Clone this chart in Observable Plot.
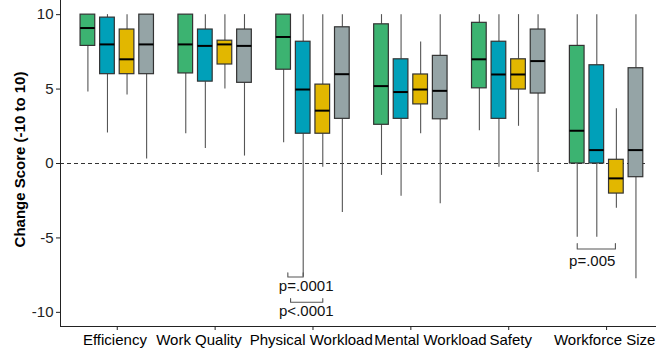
<!DOCTYPE html>
<html>
<head>
<meta charset="utf-8">
<script src="https://cdn.jsdelivr.net/npm/d3@7"></script>
<script src="https://cdn.jsdelivr.net/npm/@observablehq/plot@0.6"></script>
<style>
  html, body { margin: 0; padding: 0; background: #fff; }
  #chart svg { display: block; }
  #chart svg, #chart svg text { font-family: "Liberation Sans", Arial, Helvetica, sans-serif !important; }
</style>
</head>
<body>
<div id="chart"></div>
<script>
const categories = ["Efficiency", "Work Quality", "Physical Workload", "Mental Workload", "Safety", "Workforce Size"];
const groups = ["Group 1", "Group 2", "Group 3", "Group 4"];
const colors = ["#3cb371", "#00a0b9", "#e2b700", "#95a4a6"];
const yTicks = [-10, -5, 0, 5, 10];
const yLabel = "Change Score (-10 to 10)";

// one row per category, one value per group
const lowerWhisker = [[4.8, 2.05, 4.6, 0.3], [2.0, 1.0, 5.0, 0.5], [1.4, -7.62, -0.25, -3.3], [-0.8, -2.2, 2.0, -2.7], [2.2, -0.25, 2.5, -0.6], [-4.95, -4.95, -3.0, -7.75]];
const q1 = [[7.9, 6, 6, 6], [6.05, 5.5, 6.65, 5.42], [6.3, 2, 2, 3], [2.6, 3, 3.97, 2.97], [5.05, 3, 4.97, 4.7], [0, 0, -2.02, -0.92]];
const median = [[9.1, 8, 7, 8], [8, 7.9, 8, 7.9], [8.5, 4.97, 3.55, 6], [5.2, 4.8, 4.97, 4.88], [7, 5.98, 5.98, 6.88], [2.2, 0.9, -1.0, 0.9]];
const q3 = [[10, 9.8, 9, 10], [10, 9, 8.25, 9], [10, 8.18, 5.3, 9.15], [9.35, 7, 5.98, 7.23], [9.45, 8.18, 7, 9], [7.9, 6.6, 0.25, 6.4]];
const upperWhisker = [[10, 10, 10, 10], [10, 10, 10, 10], [10, 10, 10, 10], [10, 10, 8.17, 10], [10, 10, 10, 10], [10, 10, 3.67, 10]];

// significance brackets
const bracketCategory = ["Physical Workload", "Physical Workload", "Workforce Size"];
const bracketFrom = [-0.257, -0.229, -0.3];
const bracketTo = [-0.1, 0.1, 0.09];
const bracketY = [-7.62, -9.32, -5.74];
const bracketTip = [0.28, 0.25, 0.36];
const pLabels = ["p=.0001", "p<.0001", "p=.005"];
const pLabelOffset = [-0.07, -0.068, -0.147];
const pLabelY = [-8.22, -9.94, -6.58];

// layout: horizontal nudge of the category labels (category units), as in the reference
const labelNudge = [-0.024, -0.165, -0.018, 0.2, 0.02, -0.02];

const dodge = 0.2, boxHalf = 0.075;
const boxes = [];
categories.forEach((c, ci) => groups.forEach((g, gi) => {
  const pos = ci + 1 + (gi - 1.5) * dodge;
  boxes.push({category: c, group: g, pos, x1: pos - boxHalf, x2: pos + boxHalf,
    lo: lowerWhisker[ci][gi], q1: q1[ci][gi], med: median[ci][gi], q3: q3[ci][gi], hi: upperWhisker[ci][gi]});
}));

const bracketPts = [];
const bracketLabels = [];
bracketCategory.forEach((c, i) => {
  const base = categories.indexOf(c) + 1;
  const a = base + bracketFrom[i], b = base + bracketTo[i];
  const y = bracketY[i], t = y + bracketTip[i];
  [[a, t], [a, y], [b, y], [b, t]].forEach(([x, yy]) => bracketPts.push({id: i, x, y: yy}));
  bracketLabels.push({text: pLabels[i], x: base + pLabelOffset[i], y: pLabelY[i]});
});

const catLabels = categories.map((c, i) => ({text: c, x: i + 1 + labelNudge[i]}));

const xMin = 0.42, xMax = 6.51, yMin = -10.95, yMax = 10.95;

const chart = Plot.plot({
  width: 656,
  height: 350,
  marginLeft: 60,
  marginRight: 0,
  marginTop: 0,
  marginBottom: 24,
  style: {fontSize: "15px", background: "#fff", color: "#000", overflow: "hidden"},
  x: {domain: [xMin, xMax], axis: null},
  y: {domain: [yMin, yMax], axis: null},
  color: {domain: groups, range: colors},
  marks: [
    Plot.ruleY([0], {x1: xMin, x2: 6.4, stroke: "#333", strokeWidth: 1, strokeDasharray: "4,3"}),
    Plot.ruleX(boxes, {x: "pos", y1: "lo", y2: "q1", stroke: "#555", strokeWidth: 1.1}),
    Plot.ruleX(boxes, {x: "pos", y1: "q3", y2: "hi", stroke: "#555", strokeWidth: 1.1}),
    Plot.rect(boxes, {x1: "x1", x2: "x2", y1: "q1", y2: "q3", fill: "group", stroke: "#333", strokeWidth: 1.2}),
    Plot.ruleY(boxes, {x1: "x1", x2: "x2", y: "med", stroke: "#000", strokeWidth: 2}),
    Plot.line(bracketPts, {x: "x", y: "y", z: "id", stroke: "#555", strokeWidth: 1.1}),
    Plot.text(bracketLabels, {x: "x", y: "y", text: "text", fontSize: 15, fill: "#111", textAnchor: "middle"}),
    Plot.ruleX([xMin], {stroke: "#222", strokeWidth: 1}),
    Plot.ruleY([yMin], {stroke: "#222", strokeWidth: 1}),
    Plot.axisX({ticks: [1, 2, 3, 4, 5, 6], tickFormat: () => "", tickSize: 4, label: null, stroke: "#222"}),
    Plot.text(catLabels, {x: "x", text: "text", frameAnchor: "bottom", lineAnchor: "top", dy: 8, fontSize: 15, fill: "#000", textAnchor: "middle"}),
    Plot.axisY({ticks: yTicks, tickFormat: d => String(d), tickSize: 4, tickPadding: 3, fontSize: 15, label: null, stroke: "#222", fill: "#222"}),
    Plot.text([yLabel], {frameAnchor: "left", rotate: -90, dx: -40, dy: -4, fontWeight: "bold", fontSize: 15, fill: "#000", textAnchor: "middle"})
  ]
});
document.getElementById("chart").appendChild(chart);
</script>
</body>
</html>
